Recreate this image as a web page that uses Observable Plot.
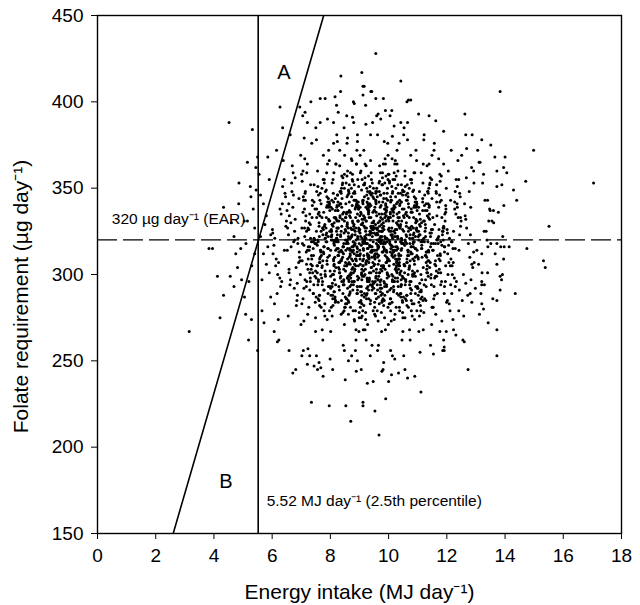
<!DOCTYPE html>
<html><head><meta charset="utf-8">
<script src="https://cdn.jsdelivr.net/npm/d3@7"></script>
<script src="https://cdn.jsdelivr.net/npm/@observablehq/plot@0.6"></script>
<style>body{margin:0;background:#fff;} #chart svg{display:block;}</style>
</head><body><div id="chart"></div>
<script>
const xTicks = [0, 2, 4, 6, 8, 10, 12, 14, 16, 18];
const yTicks = [150, 200, 250, 300, 350, 400, 450];
const xTitle = "Energy intake (MJ day⁻¹)";
const yTitle = "Folate requirement (µg day⁻¹)";
const earValue = [320];
const percentileValue = [5.52];
const lineAB = [[2.6, 150], [7.77, 450]];
const regionLabels = [
  {text: "A", x: 6.4, y: 417},
  {text: "B", x: 4.41, y: 180}
];
const lineLabels = [
  {text: "320 µg day⁻¹ (EAR)", x: 0.49, y: 332},
  {text: "5.52 MJ day⁻¹ (2.5th percentile)", x: 5.81, y: 169}
];
// sparse / fringe points
const fringePoints = [
[9.56,428],[9.08,417],[8.36,415],[10.42,412],[9.12,409],[8.35,406],[9.42,406],[9.12,404],[7.82,402],[7.65,402],[9.82,402],[10.63,400],[8.82,399],[7.33,400],[6.27,397],[6.95,397],[8.27,394],[10.11,395],[9.64,393],[7.13,394],[7.9,390],[8.76,391],[4.52,388],[5.32,384],[6.36,385],[7.21,388],[7.5,385],[8.11,388],[8.47,385],[9.22,387],[9.73,390],[10.19,386],[10.53,385],[7.1,379],[7.52,378],[8.24,377],[8.59,379],[8.93,381],[8.93,377],[9.85,377],[10.13,380],[10.65,378],
[5.15,365],[4.86,353],[4.33,339],[3.83,315],[3.95,315],[4.12,299],[4.56,299],[4.33,288],[4.69,293],[4.81,304],[4.92,315],[4.69,322],[5.04,331],[5.27,345],[5.44,362],[5.5,368],
[3.15,267],[4.21,275],[5.19,262],[5.09,277],[5.29,274],[5.5,256],[6.71,243],[7.35,226],[6.58,256],[6.18,261],[6.07,267],[5.72,272],
[7.96,224],[8.53,224],[8.7,215],[9.67,207],[9.12,226],[9.12,224],[9.53,221],[9.9,228],[7.75,241],[8.51,239],[9.27,237],[9.47,238],[10.0,238],[10.1,242],[10.34,243],[10.65,240],[9.77,244],[8.62,250],[8.93,250],[7.99,251],[7.29,253],[7.61,249],[7.67,246],[7.44,247],[7.23,257],
[11.11,232],[10.9,241],[12.73,245],[13.72,253],[13.42,272],[14.35,289],[15.32,308],[15.38,304],[13.83,291],[13.72,285],[13.2,296],[13.2,294],[13.88,297],[13.91,300],[13.4,301],[13.72,306],[13.95,309],[13.2,312],[13.66,312],[12.86,306],[12.65,295],[12.8,289],[12.86,284],[13.2,283],[13.26,280],[12.6,261],[12.31,265],[11.91,258],[11.91,256],[11.54,254],[11.76,267],
[13.83,406],[14.98,372],[17.04,353],[15.51,328],[14.75,315],[14.0,368],[14.71,354],[14.4,343],[14.29,349],[13.95,362],[14.06,359],[13.72,360],[13.89,352],[13.72,351],[13.51,375],[13.2,378],[12.62,393],[12.65,381],[13.4,343],[13.49,337],[13.6,337],[13.55,331],[13.28,325],[13.11,365],[13.14,365],[13.23,353],[12.85,362],[12.92,360],[12.68,373],[11.89,383],[11.62,389],[11.03,393],[11.39,392],[10.76,401],[13.72,318],[13.85,316],[13.97,316],[14.14,316],[8.16,403],[9.16,409],[9.39,406],[9.56,402],[10.68,401],[8.79,400],
[4.6,330],[4.75,312],[4.85,341],[4.95,297]
];
// body of the cloud, estimated band by band (energy, folate)
const corePoints = [
[5.1,318],[5.3,305],[5.2,296],[5.4,327],[5.35,338],[5.45,349],[5.05,287],[5.25,351],[5.4,312],[5.15,331],
[5.6,322],[5.7,341],[5.8,306],[5.65,297],[5.9,355],[5.75,329],[5.85,316],[5.95,287],[5.6,346],[5.7,312],[5.8,334],[5.9,301],[5.55,358],[5.65,279],[5.85,368],[5.95,323],
[6.03,312],[6.31,335],[6.17,289],[6.44,347],[6.09,321],[6.26,298],[6.38,366],[6.12,305],[6.47,328],[6.21,274],[6.35,341],[6.06,317],[6.29,293],[6.41,355],[6.14,309],[6.49,331],[6.23,262],[6.02,324],[6.36,351],[6.19,300],[6.27,338],[6.08,283],[6.42,314],[6.15,372],[6.33,296],[6.01,326],[6.46,345],[6.22,307],
[6.77,325],[6.58,301],[6.92,344],[6.65,316],[6.83,282],[6.51,337],[6.96,308],[6.72,359],[6.61,294],[6.89,321],[6.68,348],[6.55,276],[6.93,313],[6.79,332],[6.63,297],[6.98,369],[6.74,319],[6.87,288],[6.57,341],[6.82,304],
[6.53,327],[6.81,245],[6.67,353],[6.94,310],[6.59,334],[6.76,292],[6.88,318],[6.62,381],[6.97,300],[6.71,339],[6.85,285],[6.56,323],[6.79,356],[6.91,307],[6.64,330],[6.99,271],[6.73,346],[6.52,314],[6.86,295],[6.69,363],[6.77,320],[6.58,303],
[7.03,308],[7.31,329],[7.17,293],[7.44,352],[7.09,317],[7.26,281],[7.38,340],[7.12,322],[7.47,299],[7.21,364],[7.35,311],[7.06,286],[7.29,335],[7.41,319],[7.14,348],[7.49,267],[7.23,303],[7.02,327],[7.36,376],[7.19,296],
[7.27,314],[7.08,343],[7.42,289],[7.15,331],[7.33,306],[7.01,358],[7.46,320],[7.22,277],[7.11,338],[7.39,301],[7.18,325],[7.05,392],[7.43,294],[7.29,316],[7.13,347],[7.48,284],[7.24,309],[7.37,333],[7.07,256],[7.32,321],
[7.03,354],[7.31,298],[7.17,313],[7.44,342],[7.09,273],[7.26,326],[7.38,305],[7.12,367],[7.47,318],[7.21,248],[7.35,319],[7.06,360],[7.29,291],[7.41,315],[7.14,343],[7.49,302],[7.23,327],[7.02,253],
[7.77,312],[7.58,335],[7.92,289],[7.65,347],[7.83,321],[7.51,298],[7.96,366],[7.72,305],[7.61,328],[7.89,274],[7.68,341],[7.55,317],[7.93,293],[7.79,355],[7.63,309],[7.98,331],[7.74,262],[7.87,324],[7.57,351],[7.82,300],
[7.53,338],[7.81,283],[7.67,314],[7.94,372],[7.59,296],[7.76,326],[7.88,345],[7.62,307],[7.97,279],[7.71,333],[7.85,319],[7.56,360],[7.79,291],[7.91,315],[7.64,343],[7.99,302],[7.73,327],[7.52,253],[7.86,349],[7.69,311],
[7.77,336],[7.58,286],[7.92,322],[7.65,388],[7.83,299],[7.51,318],[7.96,340],[7.72,268],[7.61,330],[7.89,306],[7.68,325],[7.55,301],[7.93,344],[7.79,316],[7.63,282],[7.98,337],[7.74,308],[7.87,359],[7.57,294],[7.82,321],
[7.53,348],[7.81,276],[7.67,313],[7.94,332],[7.59,297],[7.76,369],[7.88,319],[7.62,288],[7.97,341],[7.71,304],[7.85,327],[7.56,245],[7.79,353],[7.91,310],[7.64,334],
[8.03,325],[8.31,301],[8.17,344],[8.44,316],[8.09,282],[8.26,337],[8.38,308],[8.12,359],[8.47,294],[8.21,321],[8.35,348],[8.06,276],[8.29,313],[8.41,332],[8.14,297],[8.49,369],[8.23,319],[8.02,288],[8.36,341],[8.19,304],
[8.27,327],[8.08,245],[8.42,353],[8.15,310],[8.33,334],[8.01,292],[8.46,318],[8.22,381],[8.11,300],[8.39,339],[8.18,285],[8.05,323],[8.43,356],[8.29,307],[8.13,330],[8.48,271],[8.24,346],[8.37,314],[8.07,295],[8.32,363],
[8.03,320],[8.31,303],[8.17,337],[8.44,259],[8.09,328],[8.26,311],[8.38,350],[8.12,290],[8.47,324],[8.21,398],[8.35,308],[8.06,329],[8.29,293],[8.41,352],[8.14,317],[8.49,281],[8.23,340],[8.02,322],[8.36,299],[8.19,364],
[8.27,311],[8.08,286],[8.42,335],[8.15,319],[8.33,348],[8.01,267],[8.46,303],[8.22,327],[8.11,376],[8.39,296],[8.18,314],[8.05,343],[8.43,289],[8.29,331],[8.13,306],[8.48,358],[8.24,320],[8.37,277],[8.07,338],[8.32,301],
[8.04,325],[8.32,372],[8.18,294],[8.45,316],[8.1,347],[8.27,284],[8.39,309],[8.13,333],[8.48,256],[8.22,321],
[8.77,308],[8.58,329],[8.92,293],[8.65,352],[8.83,317],[8.51,281],[8.96,340],[8.72,322],[8.61,299],[8.89,364],[8.68,311],[8.55,286],[8.93,335],[8.79,319],[8.63,348],[8.98,267],[8.74,303],[8.87,327],[8.57,376],[8.82,296],
[8.53,314],[8.81,343],[8.67,289],[8.94,331],[8.59,306],[8.76,358],[8.88,320],[8.62,277],[8.97,338],[8.71,301],[8.85,325],[8.56,392],[8.79,294],[8.91,316],[8.64,347],[8.99,284],[8.73,309],[8.52,333],[8.86,256],[8.69,321],
[8.77,354],[8.58,298],[8.92,313],[8.65,342],[8.83,273],[8.51,326],[8.96,305],[8.72,367],[8.61,318],[8.89,244],[8.68,312],[8.55,335],[8.93,289],[8.79,347],[8.63,321],[8.98,298],[8.74,366],[8.87,305],[8.57,328],[8.82,274],
[8.53,341],[8.81,317],[8.67,293],[8.94,355],[8.59,309],[8.76,331],[8.88,262],[8.62,324],[8.97,351],[8.71,300],[8.85,338],[8.56,283],[8.79,314],[8.91,372],[8.64,296],[8.99,326],[8.73,345],[8.52,307],[8.86,279],[8.69,333],
[8.78,319],[8.59,360],[8.93,291],[8.66,315],[8.84,343],[8.52,302],[8.97,327],[8.73,253],[8.62,349],[8.9,311],[8.69,336],[8.56,286],[8.94,322],[8.8,388],[8.64,299],[8.99,318],[8.75,340],[8.88,268],[8.58,330],[8.83,306],
[9.03,312],[9.31,335],[9.17,289],[9.44,347],[9.09,321],[9.26,298],[9.38,366],[9.12,305],[9.47,328],[9.21,274],[9.35,341],[9.06,317],[9.29,293],[9.41,355],[9.14,309],[9.49,331],[9.23,262],[9.02,324],[9.36,351],[9.19,300],
[9.27,338],[9.08,283],[9.42,314],[9.15,372],[9.33,296],[9.01,326],[9.46,345],[9.22,307],[9.11,279],[9.39,333],[9.18,319],[9.05,360],[9.43,291],[9.29,315],[9.13,343],[9.48,302],[9.24,327],[9.37,253],[9.07,349],[9.32,311],
[9.04,336],[9.32,286],[9.18,322],[9.45,388],[9.1,299],[9.27,318],[9.39,340],[9.13,268],[9.48,330],[9.22,306],[9.36,325],[9.07,301],[9.3,344],[9.42,316],[9.15,282],[9.5,337],[9.24,308],[9.03,359],[9.37,294],[9.2,321],
[9.28,348],[9.09,276],[9.43,313],[9.16,332],[9.34,297],[9.02,369],[9.47,319],[9.23,288],[9.12,341],[9.4,304],[9.19,327],[9.06,245],[9.44,353],[9.3,310],[9.14,334],[9.49,292],[9.25,318],[9.38,381],[9.08,300],[9.33,339],
[9.05,285],[9.33,323],[9.19,356],[9.46,307],[9.11,330],[9.28,271],[9.4,346],[9.14,314],[9.49,295],[9.23,363],[9.37,320],[9.08,303],[9.31,337],[9.43,259],[9.16,328],[9.01,311],[9.25,350],[9.04,290],[9.38,324],[9.21,398],
[9.26,308],[9.09,329],[9.44,293],[9.17,352],[9.35,317],
[9.77,325],[9.58,301],[9.92,344],[9.65,316],[9.83,282],[9.51,337],[9.96,308],[9.72,359],[9.61,294],[9.89,321],[9.68,348],[9.55,276],[9.93,313],[9.79,332],[9.63,297],[9.98,369],[9.74,319],[9.87,288],[9.57,341],[9.82,304],
[9.53,327],[9.81,245],[9.67,353],[9.94,310],[9.59,334],[9.76,292],[9.88,318],[9.62,381],[9.97,300],[9.71,339],[9.85,285],[9.56,323],[9.79,356],[9.91,307],[9.64,330],[9.99,271],[9.73,346],[9.52,314],[9.86,295],[9.69,363],
[9.77,320],[9.58,303],[9.92,337],[9.65,259],[9.83,328],[9.51,311],[9.96,350],[9.72,290],[9.61,324],[9.89,395],[9.68,308],[9.55,329],[9.93,293],[9.79,352],[9.63,317],[9.98,281],[9.74,340],[9.87,322],[9.57,299],[9.82,364],
[9.53,311],[9.81,286],[9.67,335],[9.94,319],[9.59,348],[9.76,267],[9.88,303],[9.62,327],[9.97,376],[9.71,296],[9.85,314],[9.56,343],[9.79,289],[9.91,331],[9.64,306],[9.99,358],[9.73,320],[9.52,277],[9.86,338],[9.69,301],
[9.78,325],[9.59,392],[9.93,294],[9.66,316],[9.84,347],[9.52,284],[9.97,309],[9.73,333],[9.62,256],[9.9,321],[9.69,354],[9.56,298],[9.94,313],[9.8,342],[9.64,273],[9.99,326],[9.75,305],[9.88,367],[9.58,318],[9.83,249],
[9.6,312],[9.86,335],[9.54,289],[9.95,347],[9.7,321],
[10.03,308],[10.31,329],[10.17,293],[10.44,352],[10.09,317],[10.26,281],[10.38,340],[10.12,322],[10.47,299],[10.21,364],[10.35,311],[10.06,286],[10.29,335],[10.41,319],[10.14,348],[10.49,267],[10.23,303],[10.02,327],[10.36,376],[10.19,296],
[10.27,314],[10.08,343],[10.42,289],[10.15,331],[10.33,306],[10.01,358],[10.46,320],[10.22,277],[10.11,338],[10.39,301],[10.18,325],[10.05,392],[10.43,294],[10.29,316],[10.13,347],[10.48,284],[10.24,309],[10.37,333],[10.07,256],[10.32,321],
[10.03,354],[10.31,298],[10.17,313],[10.44,342],[10.09,273],[10.26,326],[10.38,305],[10.12,367],[10.47,318],[10.21,251],[10.35,312],[10.06,335],[10.29,289],[10.41,347],[10.14,321],[10.49,298],[10.23,366],[10.02,305],[10.36,328],[10.19,274],
[10.27,341],[10.08,317],[10.42,293],[10.15,355],[10.33,309],[10.01,331],[10.46,262],[10.22,324],[10.11,351],[10.39,300],[10.18,338],[10.05,283],[10.43,314],[10.29,372],[10.13,296],[10.48,326],[10.24,345],[10.37,307],[10.07,279],[10.32,333],
[10.04,319],[10.32,360],[10.18,291],[10.45,315],[10.1,343],[10.27,302],[10.39,327],[10.13,253],[10.48,349],[10.22,311],[10.36,336],[10.07,286],[10.3,322],[10.42,388],[10.15,299],
[10.77,312],[10.58,335],[10.92,289],[10.65,347],[10.83,321],[10.51,298],[10.96,366],[10.72,305],[10.61,328],[10.89,274],[10.68,341],[10.55,317],[10.93,293],[10.79,355],[10.63,309],[10.98,331],[10.74,262],[10.87,324],[10.57,351],[10.82,300],
[10.53,338],[10.81,283],[10.67,314],[10.94,372],[10.59,296],[10.76,326],[10.88,345],[10.62,307],[10.97,279],[10.71,333],[10.85,319],[10.56,360],[10.79,291],[10.91,315],[10.64,343],[10.99,302],[10.73,327],[10.52,253],[10.86,349],[10.69,311],
[10.77,336],[10.58,286],[10.92,322],[10.65,388],[10.83,299],[10.51,318],[10.96,340],[10.72,268],[10.61,330],[10.89,306],[10.68,325],[10.55,301],[10.93,344],[10.79,316],[10.63,282],[10.98,337],[10.74,308],[10.87,359],[10.57,294],[10.82,321],
[10.53,348],[10.81,276],[10.67,313],[10.94,332],[10.59,297],[10.76,369],[10.88,319],[10.62,288],[10.97,341],[10.71,304],[10.85,327],[10.56,245],[10.79,353],[10.91,310],[10.64,334],[10.99,292],[10.73,318],[10.52,381],[10.86,300],[10.69,339],
[10.78,285],[10.6,323],
[11.03,325],[11.31,301],[11.17,344],[11.44,316],[11.09,282],[11.26,337],[11.38,308],[11.12,359],[11.47,294],[11.21,321],[11.35,348],[11.06,276],[11.29,313],[11.41,332],[11.14,297],[11.49,369],[11.23,319],[11.02,288],[11.36,341],[11.19,304],
[11.27,327],[11.08,255],[11.42,353],[11.15,310],[11.33,334],[11.01,292],[11.46,318],[11.22,381],[11.11,300],[11.39,339],[11.18,285],[11.05,323],[11.43,356],[11.29,307],[11.13,330],[11.48,271],[11.24,346],[11.37,314],[11.07,295],[11.32,363],
[11.03,320],[11.31,303],[11.17,337],[11.44,259],[11.09,328],[11.26,311],[11.38,350],[11.12,290],[11.47,324],[11.21,378],[11.35,308],[11.06,329],[11.29,293],[11.41,352],[11.14,317],[11.49,281],[11.23,340],[11.02,322],[11.36,299],[11.19,364],
[11.28,311],[11.1,286],[11.4,335],[11.16,319],[11.34,348],[11.04,267],
[11.77,308],[11.58,329],[11.92,293],[11.65,352],[11.83,317],[11.51,281],[11.96,340],[11.72,322],[11.61,299],[11.89,364],[11.68,311],[11.55,286],[11.93,335],[11.79,319],[11.63,348],[11.98,267],[11.74,303],[11.87,327],[11.57,376],[11.82,296],
[11.53,314],[11.81,343],[11.67,289],[11.94,331],[11.59,306],[11.76,358],[11.88,320],[11.62,277],[11.97,338],[11.71,301],[11.85,325],[11.56,372],[11.79,294],[11.91,316],[11.64,347],[11.99,284],[11.73,309],[11.52,333],[11.86,256],[11.69,321],
[11.77,354],[11.58,298],[11.92,313],[11.65,342],[11.83,273],[11.51,326],[11.96,305],[11.72,367],[11.61,318],[11.89,262],
[12.03,312],[12.31,335],[12.17,289],[12.44,347],[12.09,321],[12.26,298],[12.38,366],[12.12,305],[12.47,328],[12.21,274],[12.35,341],[12.06,317],[12.29,293],[12.41,355],[12.14,309],[12.49,331],[12.23,268],[12.02,324],[12.36,351],[12.19,300],
[12.27,338],[12.08,283],[12.42,314],[12.15,372],[12.33,296],[12.01,326],[12.46,345],[12.22,307],[12.11,279],[12.39,333],[12.18,319],[12.05,360],[12.43,291],[12.29,315],[12.13,343],
[12.77,348],[12.58,276],[12.92,313],[12.65,332],[12.83,297],[12.51,369],[12.96,319],[12.72,288],[12.61,341],[12.89,304],[12.68,327],[12.55,262],[12.93,353],[12.79,310],[12.63,334],[12.98,292],[12.74,318],[12.87,381],[12.57,300],[12.82,339],
[12.53,285],[12.81,323],[12.67,356],[12.94,307],
[13.03,314],[13.31,343],[13.17,289],[13.44,331],[13.09,306],[13.26,358],[13.38,320],[13.12,277],[13.47,338],[13.21,301],[13.35,325],[13.06,372],[13.29,294],[13.41,316],
[13.77,336],[13.58,286],[13.92,322],[13.65,368],[13.83,299],[13.51,318],[13.96,340],[13.72,268],[13.61,330]
];
// densest centre of the cloud, estimated band by band (energy, folate)
const densePoints = [
[7.04,318],[7.29,301],[7.16,334],[7.41,289],[7.23,326],[7.07,345],[7.36,309],[7.13,297],[7.47,338],[7.21,314],[7.32,352],[7.02,283],[7.44,321],[7.18,306],[7.27,330],[7.09,292],[7.38,343],[7.24,316],[7.49,275],[7.11,327],[7.34,303],[7.06,336],[7.42,311],[7.19,359],[7.31,296],
[7.62,322],[7.89,340],[7.51,287],[7.76,313],[7.95,331],[7.67,300],[7.83,348],[7.58,319],[7.78,279],[7.98,325],[7.64,307],[7.87,339],[7.72,294],[7.53,333],[7.93,315],[7.75,355],[7.61,285],[7.85,323],[7.56,305],[7.96,342],[7.7,298],[7.81,329],[7.65,310],[7.9,364],[7.77,291],
[7.54,305],[7.79,328],[7.66,314],[7.91,342],[7.73,296],[7.57,320],[7.86,333],[7.63,288],[7.97,311],[7.71,350],[7.82,302],[7.52,325],[7.94,339],[7.68,281],[7.77,316],[7.59,346],[7.88,308],[7.74,323],[7.99,293],[7.61,336],
[8.12,318],[8.39,357],[8.01,299],[8.26,327],[8.45,312],[8.17,284],[8.33,341],[8.08,320],[8.28,304],[8.48,331],[8.14,290],[8.37,347],[8.22,315],[8.03,326],[8.43,278],[8.25,337],[8.11,309],[8.35,322],[8.06,353],[8.46,297],[8.2,332],[8.31,313],[8.15,286],[8.4,344],[8.27,319],
[8.04,322],[8.29,340],[8.16,287],[8.41,313],[8.23,331],[8.07,300],[8.36,348],[8.13,319],[8.47,279],[8.21,325],[8.32,307],[8.02,339],[8.44,294],[8.18,333],[8.27,315],[8.09,355],[8.38,285],[8.24,323],[8.49,305],[8.11,342],[8.34,298],[8.06,329],[8.42,310],[8.19,364],[8.31,291],
[8.12,305],[8.39,328],[8.01,314],[8.26,342],[8.45,296],[8.17,320],[8.33,333],[8.08,288],[8.28,311],[8.48,350],[8.14,302],[8.37,325],[8.22,339],[8.03,281],[8.43,316],[8.25,346],[8.11,308],[8.35,323],[8.06,293],[8.46,336],
[8.54,318],[8.79,301],[8.66,334],[8.91,289],[8.73,326],[8.57,345],[8.86,309],[8.63,297],[8.97,338],[8.71,314],[8.82,352],[8.52,283],[8.94,321],[8.68,306],[8.77,330],[8.59,292],[8.88,343],[8.74,316],[8.99,275],[8.61,327],[8.84,303],[8.56,336],[8.92,311],[8.69,359],[8.81,296],
[8.62,322],[8.89,340],[8.51,287],[8.76,313],[8.95,331],[8.67,300],[8.83,348],[8.58,319],[8.78,279],[8.98,325],[8.64,307],[8.87,339],[8.72,294],[8.53,333],[8.93,315],[8.75,355],[8.61,285],[8.85,323],[8.56,305],[8.96,342],[8.7,298],[8.81,329],[8.65,310],[8.9,364],[8.77,291],
[8.55,305],[8.8,328],[8.67,314],[8.92,342],[8.74,296],[8.58,320],[8.87,333],[8.64,288],[8.98,311],[8.72,350],[8.83,302],[8.53,325],[8.95,339],[8.69,281],[8.78,316],[8.6,346],[8.89,308],[8.75,323],[9.0,293],[8.62,336],[8.85,318],[8.57,357],[8.93,299],[8.7,327],[8.82,312],
[8.63,284],[8.9,341],[8.52,320],[8.77,304],[8.96,331],[8.68,290],[8.84,347],[8.59,315],[8.79,326],[8.99,278],[8.65,337],[8.88,309],[8.73,322],[8.54,353],[8.94,297],
[9.12,318],[9.39,301],[9.01,334],[9.26,289],[9.45,326],[9.17,345],[9.33,309],[9.08,297],[9.28,338],[9.48,314],[9.14,352],[9.37,283],[9.22,321],[9.03,306],[9.43,330],[9.25,292],[9.11,343],[9.35,316],[9.06,275],[9.46,327],[9.2,303],[9.31,336],[9.15,311],[9.4,359],[9.27,296],
[9.04,322],[9.29,340],[9.16,287],[9.41,313],[9.23,331],[9.07,300],[9.36,348],[9.13,319],[9.47,279],[9.21,325],[9.32,307],[9.02,339],[9.44,294],[9.18,333],[9.27,315],[9.09,355],[9.38,285],[9.24,323],[9.49,305],[9.11,342],[9.34,298],[9.06,329],[9.42,310],[9.19,364],[9.31,291],
[9.12,305],[9.39,328],[9.01,314],[9.26,342],[9.45,296],[9.17,320],[9.33,333],[9.08,288],[9.28,311],[9.48,350],[9.14,302],[9.37,325],[9.22,339],[9.03,281],[9.43,316],[9.25,346],[9.11,308],[9.35,323],[9.06,293],[9.46,336],[9.2,318],[9.31,357],[9.15,299],[9.4,327],[9.27,312],
[9.04,284],[9.29,341],[9.16,320],[9.41,304],[9.23,331],[9.07,290],[9.36,347],[9.13,315],[9.47,326],[9.21,278],[9.32,337],[9.02,309],[9.44,322],[9.18,353],[9.27,297],[9.09,332],[9.38,313],[9.24,286],[9.49,344],[9.11,319],[9.34,301],[9.06,335],[9.42,324],[9.19,268],[9.31,310],
[9.54,296],[9.79,359],[9.66,311],[9.91,336],[9.73,303],[9.57,327],[9.86,275],[9.63,316],[9.97,343],[9.71,292],[9.82,330],[9.52,306],[9.94,321],[9.68,283],[9.77,352],[9.59,314],[9.88,338],[9.74,297],[9.99,309],[9.61,345],[9.84,326],[9.56,289],[9.92,334],[9.69,301],[9.81,318],
[9.62,291],[9.89,364],[9.51,310],[9.76,329],[9.95,298],[9.67,342],[9.83,305],[9.58,323],[9.78,285],[9.98,355],[9.64,315],[9.87,333],[9.72,294],[9.53,339],[9.93,307],[9.75,325],[9.61,279],[9.85,319],[9.56,348],[9.96,300],[9.7,331],[9.81,313],[9.65,287],[9.9,340],[9.77,322],
[9.54,312],[9.79,327],[9.66,299],[9.91,357],[9.73,318],[9.57,336],[9.86,293],[9.63,323],[9.97,308],[9.71,346],[9.82,316],[9.52,281],[9.94,339],[9.68,325],[9.77,302],[9.59,350],[9.88,311],[9.74,288],[9.99,333],[9.61,320],[9.84,296],[9.56,342],[9.92,314],[9.69,328],[9.81,305],
[9.62,310],[9.89,268],[9.51,324],[9.76,335],[9.95,301],[9.67,319],[9.83,344],[9.58,286],[9.78,313],[9.98,332],[9.64,297],[9.87,353],[9.72,322],[9.53,309],[9.93,337],[9.75,278],[9.61,326],[9.85,315],[9.56,347],[9.96,290],[9.7,331],[9.81,304],[9.65,320],[9.9,341],[9.77,284],
[10.04,318],[10.29,301],[10.16,334],[10.41,289],[10.23,326],[10.07,345],[10.36,309],[10.13,297],[10.47,338],[10.21,314],[10.32,352],[10.02,283],[10.44,321],[10.18,306],[10.27,330],[10.09,292],[10.38,343],[10.24,316],[10.49,275],[10.11,327],[10.34,303],[10.06,336],[10.42,311],[10.19,359],[10.31,296],
[10.12,312],[10.39,327],[10.01,299],[10.26,357],[10.45,318],[10.17,336],[10.33,293],[10.08,323],[10.28,308],[10.48,346],[10.14,316],[10.37,281],[10.22,339],[10.03,325],[10.43,302],[10.25,350],[10.11,311],[10.35,288],[10.06,333],[10.46,320],[10.2,296],[10.31,342],[10.15,314],[10.4,328],[10.27,305],
[10.04,291],[10.29,364],[10.16,310],[10.41,329],[10.23,298],[10.07,342],[10.36,305],[10.13,323],[10.47,285],[10.21,355],[10.32,315],[10.02,333],[10.44,294],[10.18,339],[10.27,307],[10.09,325],[10.38,279],[10.24,319],[10.49,348],[10.11,300],[10.34,331],[10.06,313],[10.42,287],[10.19,340],[10.31,322],
[10.12,284],[10.39,341],[10.01,320],[10.26,304],[10.45,331],[10.17,290],[10.33,347],[10.08,315],[10.28,326],[10.48,278],[10.14,337],[10.37,309],[10.22,322],[10.03,353],[10.43,297],
[10.62,318],[10.89,301],[10.51,334],[10.76,289],[10.95,326],[10.67,345],[10.83,309],[10.58,297],[10.78,338],[10.98,314],[10.64,352],[10.87,283],[10.72,321],[10.53,306],[10.93,330],[10.75,292],[10.61,343],[10.85,316],[10.56,275],[10.96,327],[10.7,303],[10.81,336],[10.65,311],[10.9,359],[10.77,296],
[10.54,305],[10.79,328],[10.66,314],[10.91,342],[10.73,296],[10.57,320],[10.86,333],[10.63,288],[10.97,311],[10.71,350],[10.82,302],[10.52,325],[10.94,339],[10.68,281],[10.77,316],[10.59,346],[10.88,308],[10.74,323],[10.99,293],[10.61,336],[10.84,318],[10.56,357],[10.92,299],[10.69,327],[10.81,312],
[10.62,322],[10.89,340],[10.51,287],[10.76,313],[10.95,331],[10.67,300],[10.83,348],[10.58,319],[10.78,279],[10.98,325],[10.64,307],[10.87,339],[10.72,294],[10.53,333],[10.93,315],[10.75,355],[10.61,285],[10.85,323],[10.56,305],[10.96,342],
[11.04,284],[11.29,341],[11.16,320],[11.41,304],[11.23,331],[11.07,290],[11.36,347],[11.13,315],[11.47,326],[11.21,278],[11.32,337],[11.02,309],[11.44,322],[11.18,353],[11.27,297],[11.09,332],[11.38,313],[11.24,286],[11.49,344],[11.11,319],[11.34,301],[11.06,335],[11.42,324],[11.19,268],[11.31,310],
[11.12,291],[11.39,364],[11.01,310],[11.26,329],[11.45,298],[11.17,342],[11.33,305],[11.08,323],[11.28,285],[11.48,355],[11.14,315],[11.37,333],[11.22,294],[11.03,339],[11.43,307],[11.25,325],[11.11,279],[11.35,319],[11.06,348],[11.46,300],[11.2,331],[11.31,313],[11.15,287],[11.4,340],[11.27,322],
[11.62,305],[11.89,328],[11.51,314],[11.76,342],[11.95,296],[11.67,320],[11.83,333],[11.58,288],[11.78,311],[11.98,350],[11.64,302],[11.87,325],[11.72,339],[11.53,281],[11.93,316],[11.75,346],[11.61,308],[11.85,323],[11.56,293],[11.96,336],[11.7,318],[11.81,357],[11.65,299],[11.9,327],[11.77,312],
[11.54,318],[11.79,301],[11.66,334],[11.91,289],[11.73,326],
[12.04,300],[12.29,348],[12.16,319],[12.41,279],[12.23,325],[12.07,307],[12.36,339],[12.13,294],[12.47,333],[12.21,315],[12.32,355],[12.02,285],[12.44,323],[12.18,305],[12.27,342]
];
const points = fringePoints.concat(corePoints, densePoints);

const font = "'Liberation Sans', Arial, Helvetica, sans-serif";
const chart = Plot.plot({
  width: 640,
  height: 605,
  marginLeft: 97,
  marginRight: 19,
  marginTop: 15,
  marginBottom: 72,
  style: {fontFamily: font, fontSize: "19px", color: "black", background: "white"},
  x: {domain: [0, 18]},
  y: {domain: [150, 450]},
  marks: [
    Plot.dot(points, {x: d => d[0], y: d => d[1], r: 1.5, fill: "black", clip: true}),
    Plot.ruleY(earValue, {stroke: "black", strokeWidth: 1.2, strokeDasharray: "20,6"}),
    Plot.ruleX(percentileValue, {stroke: "black", strokeWidth: 1.6}),
    Plot.line(lineAB, {x: d => d[0], y: d => d[1], stroke: "black", strokeWidth: 1.6, clip: true}),
    Plot.text(regionLabels, {x: "x", y: "y", text: "text", fontSize: 20, textAnchor: "middle", fill: "black"}),
    Plot.text(lineLabels, {x: "x", y: "y", text: "text", fontSize: 15.5, textAnchor: "start", fill: "black"}),
    Plot.frame({stroke: "black", strokeWidth: 1.4}),
    Plot.axisX({ticks: xTicks, tickSize: 6, tickPadding: 9, label: null, fontSize: 19}),
    Plot.axisY({ticks: yTicks, tickSize: 6, tickPadding: 8, label: null, fontSize: 19}),
    Plot.text([xTitle], {frameAnchor: "bottom", dy: 59, fontSize: 21, lineAnchor: "middle", textAnchor: "middle"}),
    Plot.text([yTitle], {frameAnchor: "left", dx: -76, dy: 22, rotate: -90, fontSize: 21, lineAnchor: "middle", textAnchor: "middle"})
  ]
});
document.getElementById("chart").append(chart);
</script>
</body></html>
